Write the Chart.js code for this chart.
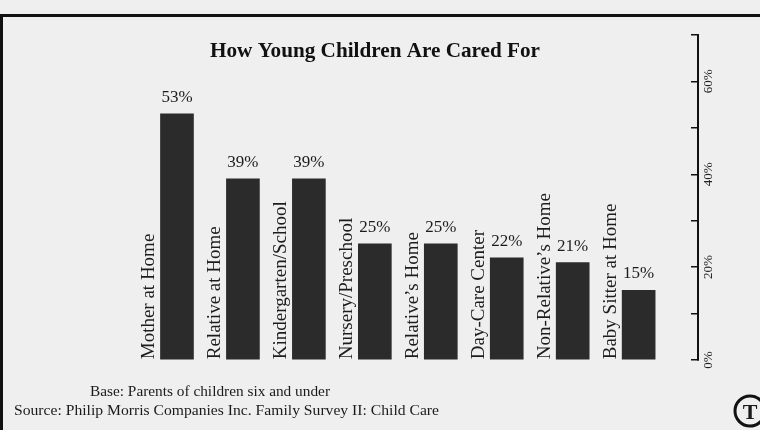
<!DOCTYPE html>
<html>
<head>
<meta charset="utf-8">
<script src="https://cdn.jsdelivr.net/npm/chart.js@4.4.1/dist/chart.umd.min.js"></script>
<style>
  html, body { margin: 0; padding: 0; background: #efefef; }
  #wrap { width: 760px; height: 430px; }
</style>
</head>
<body>
<div id="wrap"><canvas id="careChart" width="760" height="430"></canvas></div>
<script>
var categories = [
  "Mother at Home",
  "Relative at Home",
  "Kindergarten/School",
  "Nursery/Preschool",
  "Relative\u2019s Home",
  "Day-Care Center",
  "Non-Relative\u2019s Home",
  "Baby Sitter at Home",
];
var percents = [53, 39, 39, 25, 25, 22, 21, 15];
var axisLabels = [0, 20, 40, 60]; // labelled ticks on the right axis

var titleText = "How Young Children Are Cared For";
var baseNote = "Base: Parents of children six and under";
var sourceNote = "Source: Philip Morris Companies Inc. Family Survey II: Child Care";

var serif = "'Liberation Serif', 'DejaVu Serif', serif";

// squeeze a line of text into a given width (the print type is condensed)
function fitText(ctx, text, x, y, width) {
  var w = ctx.measureText(text).width;
  ctx.save();
  ctx.translate(x, y);
  ctx.scale(width / w, 1);
  ctx.fillText(text, 0, 0);
  ctx.restore();
}

var pagePlugin = {
  id: "page",
  beforeDraw: function (chart) {
    var ctx = chart.ctx;
    ctx.save();
    ctx.fillStyle = "#efefef";
    ctx.fillRect(0, 0, chart.width, chart.height);
    ctx.restore();
  },
  afterDatasetsDraw: function (chart) {
    var ctx = chart.ctx;
    var meta = chart.getDatasetMeta(0);
    ctx.save();
    ctx.fillStyle = "#1c1c1c";
    meta.data.forEach(function (bar, i) {
      // value on top
      ctx.font = "17px " + serif;
      ctx.textAlign = "center";
      ctx.textBaseline = "alphabetic";
      ctx.fillText(percents[i] + "%", bar.x, bar.y - 12);
      // category name, vertical, to the left of the bar
      ctx.save();
      ctx.translate(bar.x - bar.width / 2 - 11, bar.base);
      ctx.rotate(-Math.PI / 2);
      ctx.font = "19px " + serif;
      ctx.textAlign = "left";
      ctx.textBaseline = "middle";
      ctx.fillText(categories[i], 0, 0);
      ctx.restore();
    });
    ctx.restore();
  },
  afterDraw: function (chart) {
    var ctx = chart.ctx;
    ctx.save();
    // frame of the clipping
    ctx.strokeStyle = "#111";
    ctx.lineWidth = 3;
    ctx.beginPath();
    ctx.moveTo(0, 15.5);
    ctx.lineTo(760, 15.5);
    ctx.moveTo(1.5, 15);
    ctx.lineTo(1.5, 430);
    ctx.stroke();

    // title
    ctx.fillStyle = "#111";
    ctx.font = "bold 21px " + serif;
    ctx.textAlign = "left";
    ctx.textBaseline = "middle";
    fitText(ctx, titleText, 210, 52, 330);

    // notes
    ctx.font = "15px " + serif;
    ctx.fillStyle = "#1a1a1a";
    fitText(ctx, baseNote, 90, 392, 240);
    fitText(ctx, sourceNote, 14, 411, 425);

    // logo
    ctx.lineWidth = 3;
    ctx.beginPath();
    ctx.arc(750, 411, 15, 0, Math.PI * 2);
    ctx.stroke();
    ctx.font = "bold 22px " + serif;
    ctx.textAlign = "center";
    ctx.fillText("T", 750, 413);
    ctx.restore();
  },
};

var ctx = document.getElementById("careChart").getContext("2d");

var myChart = new Chart(ctx, {
  type: "bar",
  data: {
    datasets: [
      {
        data: percents.map(function (v, i) { return { x: i, y: v }; }),
        backgroundColor: "#2b2b2b",
        borderWidth: 0,
        barThickness: 33,
      },
    ],
  },
  options: {
    responsive: false,
    animation: false,
    layout: { padding: { left: 144, right: 22, top: 35, bottom: 70 } },
    plugins: {
      legend: { display: false },
      tooltip: { enabled: false },
    },
    scales: {
      x: {
        type: "linear",
        offset: false,
        min: -0.5,
        max: 7.9,
        display: false,
      },
      y: {
        position: "right",
        min: 0,
        max: 70,
        afterFit: function (scale) { scale.width = 40; },
        border: { display: true, color: "#111", width: 2 },
        grid: {
          drawOnChartArea: false,
          drawTicks: true,
          tickLength: -7,
          color: "#111",
          lineWidth: 1.5,
        },
        ticks: {
          stepSize: 10,
          autoSkip: false,
          minRotation: 90,
          maxRotation: 90,
          crossAlign: "center",
          padding: 6,
          color: "#222",
          font: { family: serif, size: 13 },
          callback: function (v) {
            return axisLabels.indexOf(v) >= 0 ? v + "%" : "";
          },
        },
      },
    },
  },
  plugins: [pagePlugin],
});
</script>
</body>
</html>
